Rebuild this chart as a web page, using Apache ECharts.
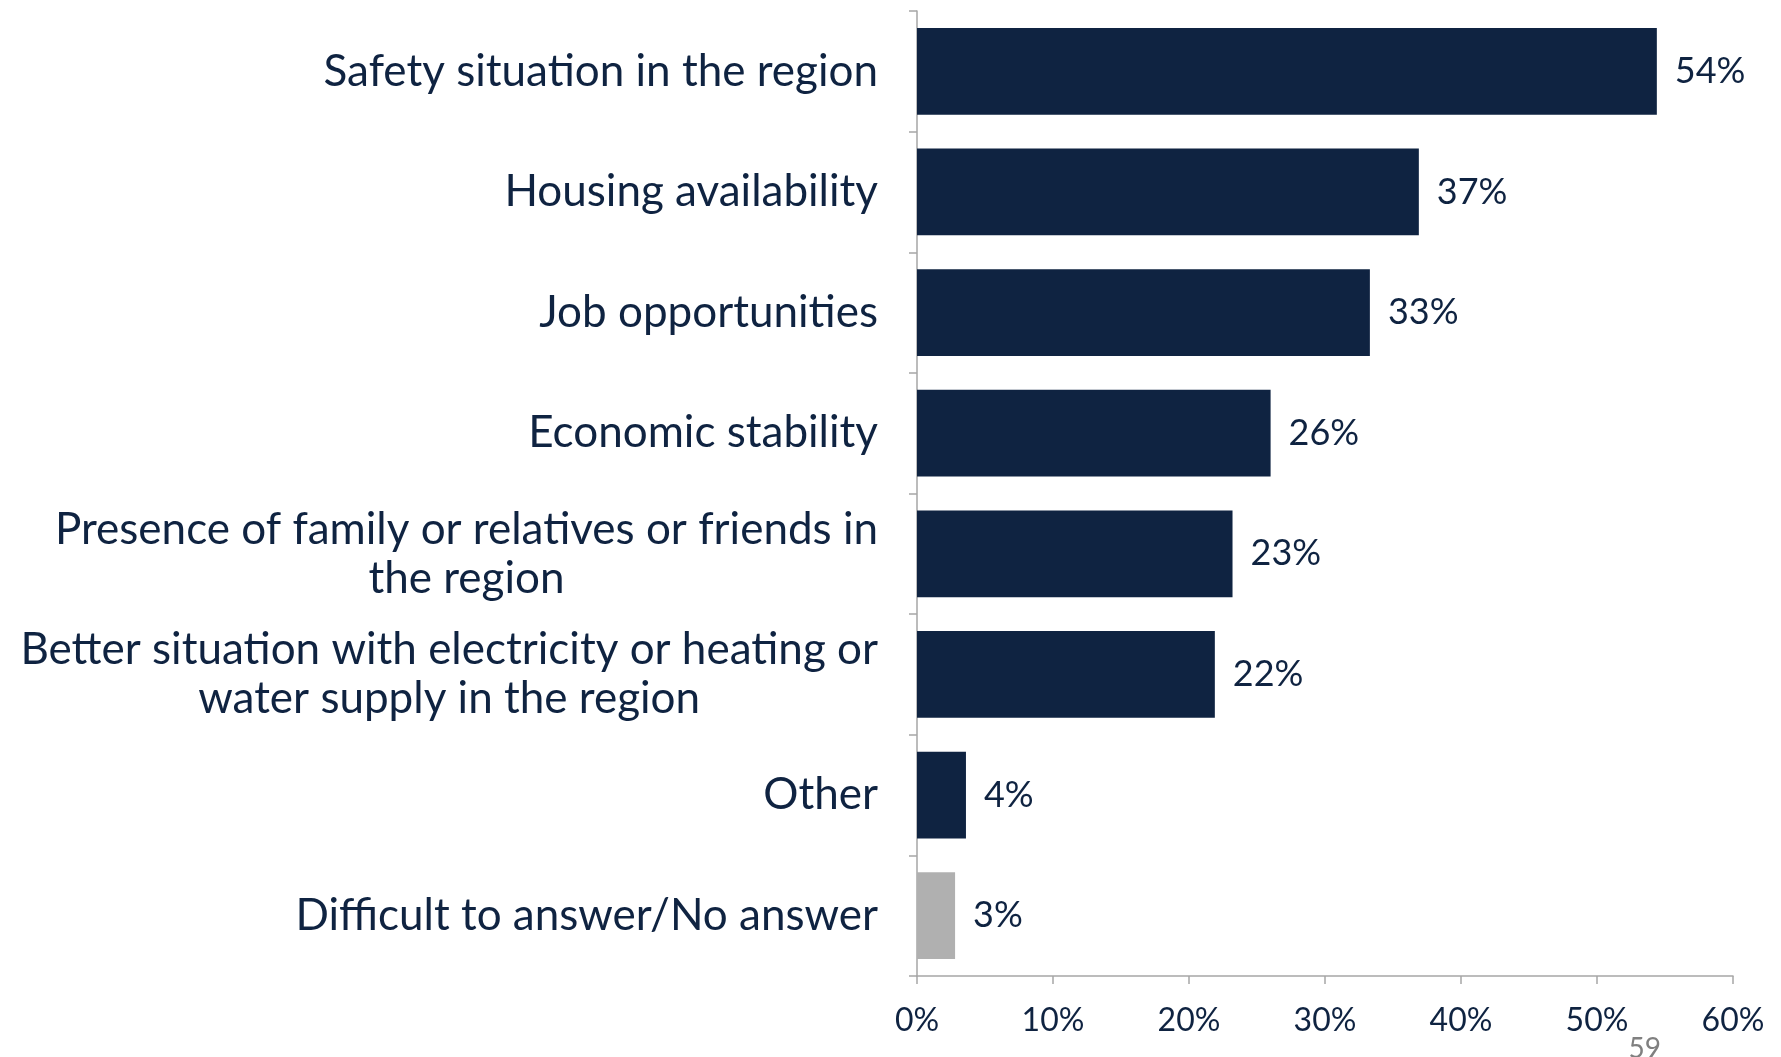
<!DOCTYPE html>
<html>
<head>
<meta charset="utf-8">
<script src="https://cdn.jsdelivr.net/npm/echarts@6/dist/echarts.min.js"></script>
<style>
html,body{margin:0;padding:0;background:#fff;}
#main{width:1781px;height:1057px;}
</style>
</head>
<body>
<div id="main"></div>
<script>
var categories = [
    'Safety situation in the region',
    'Housing availability',
    'Job opportunities',
    'Economic stability',
    'Presence of family or relatives or friends in\nthe region',
    'Better situation with electricity or heating or\nwater supply in the region',
    'Other',
    'Difficult to answer/No answer'
];
var values = [54.4, 36.9, 33.3, 26, 23.2, 21.9, 3.6, 2.8];
var barColors = ['#0f2341','#0f2341','#0f2341','#0f2341','#0f2341','#0f2341','#0f2341','#b0b0b0'];
var xTicks = [0, 10, 20, 30, 40, 50, 60];

var navy = '#0f2341';
var axisGray = '#a6a6a6';
var font = 'Lato';

var myChart = echarts.init(document.getElementById('main'));

var barData = [];
for (var i = 0; i < values.length; i++) {
    barData.push({ value: values[i], itemStyle: { color: barColors[i] } });
}

var option = {
    animation: false,
    grid: {
        left: 917,
        right: 48,
        top: 11,
        bottom: 81,
        containLabel: false
    },
    xAxis: {
        type: 'value',
        min: xTicks[0],
        max: xTicks[xTicks.length - 1],
        interval: 10,
        splitLine: { show: false },
        axisLine: { show: true, lineStyle: { color: axisGray, width: 1.5 } },
        axisTick: { show: true, length: 8, lineStyle: { color: axisGray, width: 1.5 } },
        axisLabel: {
            formatter: '{value}%',
            color: navy,
            fontFamily: font,
            fontSize: 32,
            margin: 29
        }
    },
    yAxis: {
        type: 'category',
        inverse: true,
        data: categories,
        axisLine: { show: true, lineStyle: { color: axisGray, width: 1.5 } },
        axisTick: { show: true, length: 8, lineStyle: { color: axisGray, width: 1.5 } },
        axisLabel: {
            margin: 39,
            color: navy,
            fontFamily: font,
            fontSize: 44,
            lineHeight: 49,
            // 两行标签居中对齐
            formatter: function (v) {
                return v.split('\n').map(function (s) { return '{c|' + s + '}'; }).join('\n');
            },
            rich: {
                c: { align: 'center', color: navy, fontFamily: font, fontSize: 44, lineHeight: 49 }
            }
        }
    },
    series: [
        {
            type: 'bar',
            data: barData,
            barCategoryGap: '28%',
            label: {
                show: true,
                position: 'right',
                distance: 18,
                color: navy,
                fontFamily: font,
                fontSize: 36,
                formatter: function (p) { return Math.round(p.value) + '%'; }
            }
        }
    ],
    graphic: [
        {
            type: 'text',
            right: 120,
            bottom: -6,
            style: { text: '59', fill: '#808080', fontFamily: font, fontSize: 28 }
        }
    ]
};
myChart.setOption(option);
</script>
</body>
</html>
